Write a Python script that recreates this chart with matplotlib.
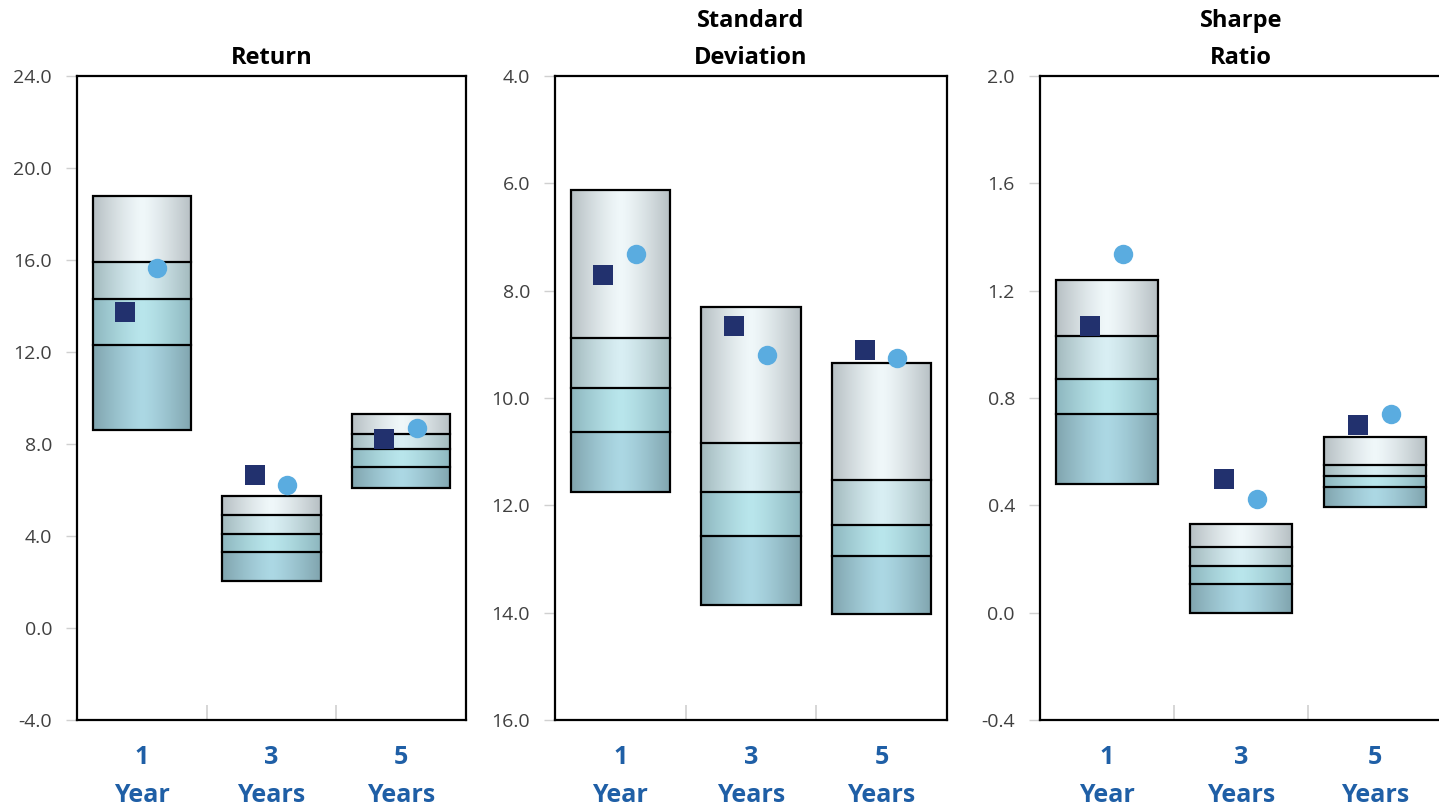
import numpy as np
import matplotlib
matplotlib.use("Agg")
import matplotlib.pyplot as plt
from matplotlib.patches import Rectangle

plt.rcParams['font.family'] = ['Open Sans', 'DejaVu Sans']

categories = ['1\nYear', '3\nYears', '5\nYears']

# percentile edges per period: 5th/95th, 25th/75th, median ... (top to bottom as drawn)
return_bounds = [[18.8, 15.9, 14.3, 12.3, 8.6],
                 [5.75, 4.9, 4.1, 3.3, 2.05],
                 [9.3, 8.45, 7.8, 7.0, 6.1]]
return_square = [13.75, 6.65, 8.2]
return_circle = [15.65, 6.2, 8.7]

std_bounds = [[6.12, 8.88, 9.81, 10.63, 11.75],
              [8.3, 10.84, 11.75, 12.57, 13.86],
              [9.35, 11.53, 12.37, 12.94, 14.02]]
std_square = [7.7, 8.65, 9.1]
std_circle = [7.32, 9.2, 9.25]

sharpe_bounds = [[1.24, 1.03, 0.87, 0.74, 0.48],
                 [0.33, 0.245, 0.175, 0.105, 0.0],
                 [0.655, 0.55, 0.51, 0.47, 0.395]]
sharpe_square = [1.07, 0.5, 0.70]
sharpe_circle = [1.335, 0.425, 0.74]

panels = [
    dict(title='Return', bounds=return_bounds, sq=return_square, ci=return_circle,
         ylim=(-4, 24), ticks=np.arange(-4, 24.1, 4), invert=False, fmt='{:.1f}',
         pos=[77, 389]),
    dict(title='Standard\nDeviation', bounds=std_bounds, sq=std_square, ci=std_circle,
         ylim=(4, 16), ticks=np.arange(4, 16.1, 2), invert=True, fmt='{:.1f}',
         pos=[555, 392]),
    dict(title='Sharpe\nRatio', bounds=sharpe_bounds, sq=sharpe_square, ci=sharpe_circle,
         ylim=(-0.4, 2.0), ticks=np.arange(-0.4, 2.01, 0.4), invert=False, fmt='{:.1f}',
         pos=[1040, 402]),
]

# gradient colours per band (edge, centre), top band first
band_colors = [('#b6bfc3', '#f0f8fa'),
               ('#a2b9bd', '#d9eff4'),
               ('#8db6be', '#b9e6ec'),
               ('#80a4ae', '#acd8e4')]


def hex2rgb(h):
    return np.array([int(h[i:i + 2], 16) / 255 for i in (1, 3, 5)])


def gradient(edge, centre, n=256):
    t = np.abs(np.linspace(-1, 1, n)) ** 1.3
    e, c = hex2rgb(edge), hex2rgb(centre)
    img = c[None, :] + (e - c)[None, :] * t[:, None]
    return img[None, :, :]


W, H = 1439, 809
fig = plt.figure(figsize=(W / 100, H / 100), dpi=100)

x = np.arange(len(categories))
bw = 0.38

for p in panels:
    left, width = p['pos']
    ax = fig.add_axes([left / W, 1 - 720 / H, width / W, (720 - 76) / H])

    for i in range(len(categories)):
        b = p['bounds'][i]
        for k in range(4):
            lo, hi = sorted([b[k], b[k + 1]])
            ax.imshow(gradient(*band_colors[k]), extent=[x[i] - bw, x[i] + bw, lo, hi],
                      aspect='auto', interpolation='bilinear', zorder=2)
        lo, hi = min(b), max(b)
        ax.add_patch(Rectangle((x[i] - bw, lo), 2 * bw, hi - lo, fill=False,
                               edgecolor='black', linewidth=1.6, zorder=3))
        for v in b[1:4]:
            ax.plot([x[i] - bw, x[i] + bw], [v, v], color='black', lw=1.6, zorder=3)

    ax.plot(x - 0.13, p['sq'], 's', color='#22316e', markersize=14, mew=0, zorder=4,
            linestyle='none')
    ax.plot(x + 0.12, p['ci'], 'o', color='#5aace0', markersize=14, mew=0, zorder=4,
            linestyle='none')

    ax.set_xlim(-0.5, 2.5)
    if p['invert']:
        ax.set_ylim(p['ylim'][1], p['ylim'][0])
    else:
        ax.set_ylim(*p['ylim'])

    ax.set_yticks(p['ticks'])
    ax.set_yticklabels([p['fmt'].format(t + 0.0) for t in p['ticks']])
    ax.tick_params(axis='y', direction='out', length=8, width=1, color='#d0d0d0',
                   pad=10, labelsize=14, labelcolor='#404040')

    ax.set_xticks(x)
    ax.set_xticklabels(categories, fontsize=18, fontweight='bold', color='#1f5fa6',
                       linespacing=1.68)
    ax.tick_params(axis='x', which='major', length=0, pad=18)
    ax.set_xticks([0.5, 1.5], minor=True)
    ax.tick_params(axis='x', which='minor', direction='in', length=11, width=1.2,
                   color='#d0d0d0')

    for s in ax.spines.values():
        s.set_linewidth(1.6)
        s.set_color('black')

    ax.set_title(p['title'], fontsize=17, fontweight='bold', pad=9, linespacing=1.72)

fig.savefig('out.png', dpi=100)
